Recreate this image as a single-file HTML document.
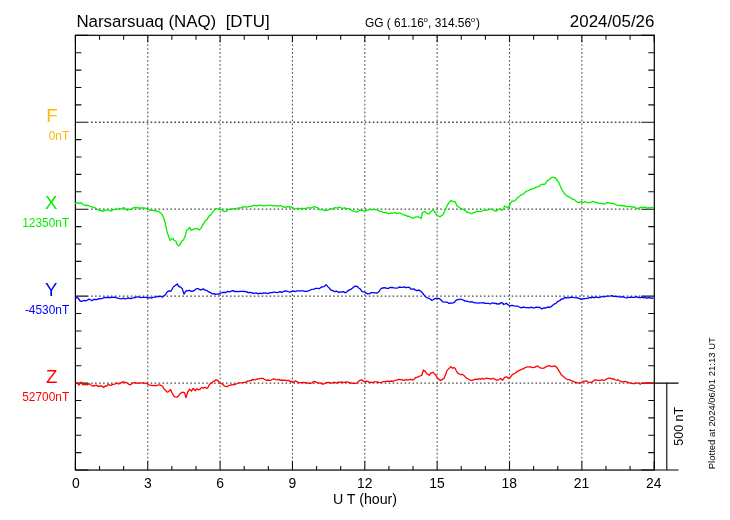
<!DOCTYPE html><html><head><meta charset="utf-8"><style>html,body{margin:0;padding:0;background:#fff;}svg{display:block;}text{font-family:"Liberation Sans",Arial,sans-serif;}</style></head><body>
<svg width="730" height="520" viewBox="0 0 730 520">
<rect width="730" height="520" fill="#fff"/>
<path d="M91.10 122.25H641.30 M91.10 209.20H641.30 M91.10 296.15H641.30 M91.10 383.10H641.30" stroke="#000" stroke-width="1.3" stroke-dasharray="1.6 2.3675" fill="none" stroke-opacity="0.72"/>
<path d="M147.75 36.23V462.05 M220.10 36.23V462.05 M292.45 36.23V462.05 M364.80 36.23V462.05 M437.15 36.23V462.05 M509.51 36.23V462.05 M581.86 36.23V462.05" stroke="#000" stroke-width="1.1" stroke-dasharray="1.8 2.1675" fill="none" stroke-opacity="0.64"/>
<path d="M75.40 35.30h13 M654.30 35.30h-13 M75.40 52.69h6 M654.30 52.69h-6 M75.40 70.08h6 M654.30 70.08h-6 M75.40 87.47h6 M654.30 87.47h-6 M75.40 104.86h6 M654.30 104.86h-6 M75.40 122.25h13 M654.30 122.25h-13 M75.40 139.64h6 M654.30 139.64h-6 M75.40 157.03h6 M654.30 157.03h-6 M75.40 174.42h6 M654.30 174.42h-6 M75.40 191.81h6 M654.30 191.81h-6 M75.40 209.20h13 M654.30 209.20h-13 M75.40 226.59h6 M654.30 226.59h-6 M75.40 243.98h6 M654.30 243.98h-6 M75.40 261.37h6 M654.30 261.37h-6 M75.40 278.76h6 M654.30 278.76h-6 M75.40 296.15h13 M654.30 296.15h-13 M75.40 313.54h6 M654.30 313.54h-6 M75.40 330.93h6 M654.30 330.93h-6 M75.40 348.32h6 M654.30 348.32h-6 M75.40 365.71h6 M654.30 365.71h-6 M75.40 383.10h13 M654.30 383.10h-13 M75.40 400.49h6 M654.30 400.49h-6 M75.40 417.88h6 M654.30 417.88h-6 M75.40 435.27h6 M654.30 435.27h-6 M75.40 452.66h6 M654.30 452.66h-6 M75.40 470.05h13 M654.30 470.05h-13 M75.40 470.05v-9 M75.40 35.30v7 M99.52 470.05v-4 M99.52 35.30v4.5 M123.63 470.05v-4 M123.63 35.30v4.5 M147.75 470.05v-9 M147.75 35.30v7 M171.87 470.05v-4 M171.87 35.30v4.5 M195.99 470.05v-4 M195.99 35.30v4.5 M220.10 470.05v-9 M220.10 35.30v7 M244.22 470.05v-4 M244.22 35.30v4.5 M268.34 470.05v-4 M268.34 35.30v4.5 M292.45 470.05v-9 M292.45 35.30v7 M316.57 470.05v-4 M316.57 35.30v4.5 M340.69 470.05v-4 M340.69 35.30v4.5 M364.80 470.05v-9 M364.80 35.30v7 M388.92 470.05v-4 M388.92 35.30v4.5 M413.04 470.05v-4 M413.04 35.30v4.5 M437.15 470.05v-9 M437.15 35.30v7 M461.27 470.05v-4 M461.27 35.30v4.5 M485.39 470.05v-4 M485.39 35.30v4.5 M509.51 470.05v-9 M509.51 35.30v7 M533.62 470.05v-4 M533.62 35.30v4.5 M557.74 470.05v-4 M557.74 35.30v4.5 M581.86 470.05v-9 M581.86 35.30v7 M605.97 470.05v-4 M605.97 35.30v4.5 M630.09 470.05v-4 M630.09 35.30v4.5 M654.21 470.05v-9 M654.21 35.30v7" stroke="#111" stroke-width="1.1" fill="none"/>
<rect x="75.4" y="35.3" width="578.90" height="434.75" fill="none" stroke="#000" stroke-width="1.2"/>
<path d="M654.30 383.10H678.5M654.30 470.05H678.5M666.8 383.10V470.05" stroke="#000" stroke-width="1.1" fill="none"/>
<path d="M75.0 203.6 L76.7 202.8 L78.3 203.0 L79.8 203.3 L81.4 202.6 L82.6 204.2 L84.4 205.2 L86.3 205.5 L88.2 205.5 L90.0 206.3 L91.8 206.8 L93.7 207.3 L95.4 208.1 L97.0 209.2 L98.7 209.8 L100.1 210.8 L101.6 210.4 L103.0 211.6 L104.4 210.2 L105.9 210.7 L107.3 209.5 L108.8 210.1 L110.4 211.0 L111.8 210.9 L113.2 209.4 L114.6 209.6 L116.0 209.2 L117.5 209.2 L118.9 208.2 L120.4 209.0 L121.8 208.6 L123.3 207.7 L125.2 208.3 L127.0 210.4 L128.5 209.1 L130.0 209.3 L131.4 209.4 L132.9 208.0 L134.4 207.6 L135.9 207.4 L137.5 208.0 L139.1 207.6 L140.6 208.6 L141.8 207.8 L143.0 207.8 L144.7 208.0 L146.3 208.5 L148.0 208.8 L150.0 210.4 L151.5 210.2 L152.9 210.4 L154.4 211.0 L155.9 210.7 L157.3 211.3 L158.8 211.5 L161.0 213.2 L163.2 216.4 L165.3 223.0 L167.0 231.8 L168.6 236.2 L170.3 240.5 L171.9 238.9 L173.2 238.4 L174.1 240.5 L175.8 241.1 L177.4 245.0 L179.0 246.0 L180.1 244.4 L181.8 241.1 L183.4 240.0 L185.1 236.2 L186.7 230.1 L188.4 229.0 L189.5 227.4 L191.1 230.1 L193.3 229.4 L194.7 228.7 L196.0 228.7 L198.2 229.0 L199.3 230.1 L201.5 227.4 L202.8 224.5 L204.2 223.0 L205.3 220.3 L207.0 219.7 L209.2 215.9 L210.6 215.1 L211.9 213.2 L213.3 211.3 L214.7 209.3 L216.3 208.5 L217.7 209.1 L219.0 209.3 L220.7 209.2 L222.3 210.1 L223.7 211.5 L225.0 211.4 L226.4 211.3 L227.7 209.5 L229.1 209.4 L230.5 208.9 L231.8 209.3 L233.2 208.7 L234.6 208.8 L235.9 209.0 L237.3 208.1 L238.7 208.0 L240.1 208.2 L241.4 207.7 L242.8 206.9 L244.1 207.0 L245.5 206.6 L246.9 207.1 L248.3 206.9 L249.6 206.2 L251.0 206.3 L252.4 206.0 L253.8 205.2 L255.1 205.4 L256.5 206.1 L257.8 205.5 L259.2 205.5 L260.6 205.0 L262.0 205.7 L263.3 205.9 L264.7 205.9 L266.1 205.7 L267.5 205.4 L268.9 205.4 L270.2 205.4 L271.6 205.3 L273.0 205.9 L274.3 205.7 L275.6 205.7 L277.0 206.0 L278.4 206.1 L279.8 205.5 L281.1 205.7 L282.5 206.8 L283.9 206.6 L285.3 207.4 L286.6 206.9 L288.0 206.7 L289.4 207.0 L290.8 206.8 L292.1 207.7 L293.5 208.0 L294.9 208.8 L296.2 208.6 L297.6 208.3 L299.0 208.3 L300.4 209.0 L301.7 208.2 L303.1 208.7 L304.5 208.4 L305.8 208.7 L307.2 207.7 L308.6 207.9 L309.9 207.8 L311.3 208.0 L313.0 207.0 L314.7 206.6 L316.4 207.4 L318.2 208.0 L319.5 209.6 L320.9 209.8 L322.4 209.2 L324.0 210.6 L325.5 210.3 L326.9 210.3 L328.2 210.0 L329.6 209.0 L331.0 209.0 L332.4 208.8 L333.7 208.1 L335.1 207.7 L336.5 207.8 L337.8 207.6 L339.1 207.0 L340.5 207.7 L341.9 208.4 L343.2 208.2 L344.6 207.8 L346.0 208.4 L347.8 208.7 L349.5 209.0 L351.2 210.1 L352.9 211.2 L354.3 211.3 L355.6 211.6 L357.0 212.1 L358.4 211.2 L359.7 210.1 L361.1 210.4 L362.5 210.3 L364.5 211.4 L366.6 210.1 L368.0 210.2 L369.3 209.9 L370.6 209.2 L372.0 209.8 L373.4 209.4 L374.8 209.3 L376.1 209.9 L377.5 209.8 L378.9 210.9 L380.2 211.3 L381.6 211.4 L383.0 212.3 L384.4 212.7 L385.7 212.3 L387.1 213.1 L388.5 213.7 L389.9 213.6 L391.2 212.8 L392.6 213.5 L394.0 212.7 L395.4 212.6 L396.7 213.7 L398.1 213.2 L399.5 213.2 L400.8 213.3 L402.2 214.2 L403.6 215.0 L404.9 215.2 L406.3 215.4 L407.7 216.6 L408.9 216.2 L410.0 216.8 L411.6 217.6 L413.3 218.3 L415.0 217.1 L416.6 216.8 L418.2 216.8 L419.9 217.4 L421.0 218.7 L422.6 212.5 L424.8 211.4 L426.4 213.0 L427.8 213.8 L429.2 213.9 L430.8 211.9 L433.0 209.7 L435.2 212.5 L436.8 215.4 L438.5 216.0 L440.1 216.8 L441.5 215.6 L442.9 215.0 L445.1 210.3 L447.3 205.3 L448.6 203.1 L450.0 201.0 L451.4 200.6 L452.7 201.7 L454.9 201.3 L457.1 205.9 L458.8 207.0 L460.4 208.4 L462.0 208.9 L463.7 209.7 L465.4 210.6 L467.0 212.5 L468.6 212.3 L470.3 213.3 L471.8 213.6 L473.2 212.8 L474.7 212.5 L476.3 211.5 L477.9 211.4 L479.4 211.4 L480.8 211.6 L482.3 211.0 L483.8 210.0 L485.2 209.8 L486.7 210.3 L488.7 209.7 L490.5 209.1 L492.4 209.5 L494.2 210.7 L496.1 211.3 L498.0 209.5 L499.8 208.8 L501.1 209.9 L502.3 210.4 L503.5 208.5 L504.7 206.0 L506.2 206.9 L507.8 207.6 L509.7 205.1 L510.9 202.5 L512.1 200.8 L513.4 201.5 L514.6 200.8 L515.9 199.9 L517.1 198.1 L518.7 197.0 L520.4 195.4 L522.0 194.7 L523.6 193.7 L525.3 192.1 L526.9 191.0 L528.8 190.3 L530.6 189.4 L532.5 188.7 L534.3 188.5 L535.5 187.3 L537.4 187.0 L539.2 186.3 L540.5 184.9 L541.7 184.6 L543.0 184.2 L544.5 184.3 L546.0 183.0 L547.3 180.5 L548.8 180.1 L550.3 178.6 L551.5 177.5 L552.8 177.0 L554.0 177.8 L555.3 177.6 L557.1 180.0 L559.0 182.9 L560.9 187.6 L562.7 191.0 L564.5 193.7 L566.4 195.6 L567.5 196.1 L568.7 196.8 L570.5 197.6 L572.4 199.2 L574.2 199.5 L576.1 201.3 L578.0 202.4 L579.8 202.3 L581.0 201.6 L582.3 202.3 L583.8 202.4 L585.3 201.5 L587.1 202.8 L589.0 202.7 L590.7 202.5 L592.3 201.5 L594.0 201.7 L595.5 202.6 L597.1 202.3 L598.5 203.3 L600.0 203.3 L601.4 203.3 L603.0 203.8 L604.5 204.2 L606.0 203.2 L607.5 202.6 L609.4 202.9 L611.2 203.6 L612.8 203.3 L614.3 203.8 L616.1 204.9 L618.0 205.4 L619.6 205.5 L621.3 205.3 L622.9 206.0 L624.6 205.6 L626.2 206.6 L627.9 206.6 L629.5 206.4 L631.2 206.9 L632.8 207.0 L634.3 207.0 L635.9 208.2 L637.5 208.5 L639.0 208.2 L640.9 207.2 L642.7 207.6 L644.2 207.2 L645.8 207.3 L647.3 208.3 L648.8 207.6 L650.5 208.0 L652.1 207.4 L653.8 207.6" stroke="#00f000" stroke-width="1.3" fill="none" stroke-linejoin="round"/>
<path d="M75.5 298.5 L77.1 297.3 L78.3 298.5 L80.2 301.0 L82.1 301.3 L83.9 300.3 L85.8 300.8 L87.6 300.0 L88.8 299.1 L90.0 299.5 L91.9 300.7 L93.5 299.5 L95.0 299.5 L96.8 299.6 L98.7 298.7 L100.3 298.8 L102.0 298.4 L103.6 297.9 L105.2 297.4 L106.9 297.7 L108.5 297.3 L110.2 297.5 L111.8 297.4 L113.5 297.3 L115.0 297.1 L116.5 297.9 L118.1 298.2 L119.6 298.7 L121.4 298.8 L123.3 298.2 L124.9 298.8 L126.6 298.7 L128.2 297.9 L129.4 298.3 L130.7 298.5 L132.3 298.1 L134.0 297.5 L135.6 297.5 L137.3 296.8 L138.9 296.9 L140.6 297.6 L142.4 297.4 L144.3 297.3 L146.2 297.3 L148.0 297.9 L149.6 297.5 L151.3 298.1 L152.9 297.3 L154.4 297.2 L156.0 297.0 L157.6 296.4 L159.1 296.6 L160.8 296.2 L162.5 297.2 L164.0 295.7 L165.5 294.7 L167.4 291.6 L169.2 290.8 L171.1 291.0 L172.9 287.7 L174.2 286.1 L175.4 285.5 L177.3 283.9 L178.5 286.1 L180.3 287.1 L182.2 288.6 L184.0 294.1 L185.9 291.0 L187.8 290.7 L189.6 290.4 L191.4 291.4 L193.3 291.0 L194.9 290.1 L196.4 288.6 L197.9 288.6 L199.5 289.5 L201.3 289.8 L203.2 288.9 L205.0 290.1 L206.8 290.4 L208.7 291.9 L210.5 292.6 L212.3 293.8 L214.2 293.7 L215.4 294.3 L216.7 294.1 L218.6 294.1 L220.4 293.2 L222.2 292.5 L224.1 292.3 L225.9 292.5 L227.8 291.3 L229.7 291.8 L231.5 291.0 L233.1 290.6 L234.8 291.6 L236.4 291.4 L238.1 291.7 L239.7 291.3 L241.4 291.3 L243.0 291.4 L244.7 291.5 L246.3 291.6 L248.1 292.6 L249.9 292.3 L251.6 292.6 L253.2 293.4 L254.9 293.2 L256.5 293.0 L258.2 293.8 L259.8 293.2 L261.4 293.7 L262.9 293.0 L264.4 293.2 L266.0 293.0 L267.5 293.5 L269.1 293.1 L270.6 292.7 L272.1 292.6 L273.7 292.1 L275.2 292.2 L276.8 292.7 L278.3 292.3 L279.9 291.6 L281.6 292.4 L283.2 291.6 L284.8 291.0 L286.3 291.0 L288.2 291.6 L290.0 292.1 L291.9 291.3 L293.4 290.9 L294.9 291.7 L296.5 291.2 L298.0 290.8 L299.7 290.8 L301.3 290.8 L303.0 290.8 L304.8 291.3 L306.6 291.4 L308.5 290.8 L310.3 290.0 L312.1 289.3 L314.0 289.2 L315.9 288.3 L317.7 288.3 L319.6 288.6 L321.4 287.0 L322.6 286.9 L323.9 286.7 L326.1 284.6 L328.2 287.1 L330.0 288.8 L331.2 290.3 L332.5 290.4 L333.7 291.2 L334.9 291.6 L336.6 291.1 L338.2 292.3 L339.9 292.0 L341.8 292.1 L343.6 291.6 L344.8 292.7 L346.0 292.5 L347.9 290.7 L349.7 289.8 L351.5 288.9 L353.4 287.3 L355.2 286.1 L357.1 286.3 L358.4 287.7 L359.6 288.6 L360.9 289.8 L362.1 291.6 L364.0 291.8 L365.8 292.9 L367.6 293.9 L369.5 293.7 L371.4 292.6 L373.2 292.6 L374.7 292.9 L376.2 293.2 L378.1 292.3 L379.3 291.3 L380.5 289.2 L381.8 288.2 L383.0 288.0 L384.9 287.7 L386.7 288.3 L388.5 288.4 L390.4 287.3 L392.2 287.5 L394.1 287.9 L396.0 288.2 L397.8 287.9 L399.4 287.0 L401.1 287.3 L402.7 287.3 L404.4 286.8 L406.0 287.6 L407.7 287.3 L409.3 287.3 L411.0 289.2 L412.6 289.2 L413.8 288.8 L415.0 289.9 L416.2 290.5 L417.5 290.5 L419.0 290.1 L420.5 291.1 L422.1 292.4 L423.6 294.5 L425.5 296.7 L427.3 297.9 L428.7 298.2 L430.2 299.0 L431.6 300.3 L433.1 299.8 L434.7 298.7 L436.2 298.4 L437.8 298.5 L439.4 298.6 L440.9 300.0 L442.8 301.8 L444.6 302.2 L446.0 302.1 L447.5 302.3 L448.9 303.4 L450.3 303.0 L451.8 303.2 L453.2 302.8 L454.6 302.1 L456.1 300.2 L457.5 299.7 L459.0 299.5 L460.4 299.0 L461.9 299.7 L463.5 300.1 L465.2 301.1 L466.8 301.2 L468.4 301.7 L470.1 302.1 L471.7 301.6 L473.3 302.4 L475.0 302.9 L476.6 302.8 L478.3 303.1 L479.9 302.8 L481.6 302.8 L483.2 302.6 L484.9 303.4 L486.5 303.4 L488.4 303.4 L490.2 304.0 L492.0 303.0 L493.9 303.2 L495.8 303.5 L497.6 304.0 L499.5 303.9 L501.3 302.6 L502.5 303.0 L503.7 304.5 L504.9 304.0 L506.2 303.2 L508.0 304.7 L509.9 306.0 L511.1 305.5 L512.3 305.3 L514.1 305.8 L516.0 306.2 L517.9 306.2 L519.7 307.2 L521.4 308.0 L523.0 307.0 L524.7 307.4 L526.3 307.7 L528.0 307.6 L529.6 307.9 L531.2 307.1 L532.9 307.9 L534.5 307.8 L536.4 307.1 L538.2 307.4 L540.0 307.5 L541.9 309.0 L543.8 307.8 L545.6 308.0 L547.0 307.3 L548.5 307.0 L549.9 307.4 L551.3 306.5 L552.8 305.2 L554.2 304.1 L556.0 303.4 L557.9 301.3 L559.8 300.7 L561.6 298.8 L562.9 299.1 L564.1 297.9 L565.7 297.5 L567.4 297.8 L569.0 297.9 L570.9 297.2 L572.7 297.3 L574.4 297.6 L576.0 297.8 L577.7 297.7 L579.2 298.7 L580.7 299.0 L582.2 299.2 L583.7 298.6 L585.1 298.6 L586.6 298.4 L588.1 298.3 L589.5 297.3 L591.0 297.9 L592.4 297.1 L593.9 297.5 L595.3 297.5 L596.8 296.9 L598.2 297.7 L599.7 297.3 L601.2 296.8 L602.6 296.5 L604.1 297.0 L605.6 296.3 L607.0 296.1 L608.5 296.2 L610.7 295.9 L612.2 295.6 L613.6 296.3 L615.1 296.4 L616.6 296.5 L618.0 296.5 L619.5 297.0 L620.9 297.2 L622.4 296.6 L623.8 297.0 L625.2 297.7 L626.5 297.8 L627.9 297.6 L629.3 297.3 L630.7 297.2 L632.0 297.3 L633.4 297.4 L634.8 297.3 L636.3 296.7 L637.7 297.3 L639.2 297.5 L640.7 297.6 L642.1 297.2 L643.6 297.8 L645.0 297.2 L646.5 298.3 L647.9 297.8 L649.3 297.6 L650.6 297.8 L652.0 298.4 L653.4 297.8" stroke="#0000ff" stroke-width="1.3" fill="none" stroke-linejoin="round"/>
<path d="M75.5 383.6 L77.1 382.9 L78.9 385.0 L80.2 383.2 L81.4 382.1 L82.6 384.8 L83.8 384.7 L85.1 384.5 L86.3 384.5 L87.6 384.8 L89.4 383.6 L91.3 385.4 L92.5 385.9 L93.7 386.0 L95.0 385.7 L96.2 385.0 L98.0 386.6 L99.9 385.8 L101.8 386.0 L103.6 387.5 L105.2 386.0 L106.7 386.0 L108.5 384.2 L109.8 385.3 L111.0 385.4 L112.8 384.4 L114.7 384.2 L116.0 383.2 L117.2 382.9 L118.4 384.0 L119.6 383.6 L121.4 382.6 L123.3 381.7 L124.5 382.5 L125.8 382.3 L127.7 383.5 L129.5 384.8 L131.1 384.3 L132.8 382.8 L134.4 382.6 L136.0 382.9 L137.7 383.4 L139.3 382.9 L140.8 382.9 L142.2 383.1 L143.7 382.7 L145.1 383.5 L146.6 383.0 L148.0 384.2 L149.8 385.2 L151.7 385.4 L153.3 385.7 L155.0 385.4 L156.6 385.8 L158.4 384.8 L160.3 385.2 L162.5 386.0 L163.7 388.4 L164.9 389.7 L166.2 390.9 L167.4 392.2 L168.9 391.2 L170.5 389.5 L172.3 393.4 L173.6 395.7 L174.8 396.9 L176.1 397.2 L177.3 396.9 L178.5 396.1 L179.7 394.0 L181.2 392.9 L182.8 392.2 L184.7 392.8 L185.9 397.7 L187.7 392.2 L189.6 389.1 L191.4 391.0 L193.3 388.5 L195.1 390.7 L197.0 388.7 L198.2 389.7 L199.5 389.7 L200.7 388.5 L201.9 387.5 L203.4 388.1 L205.0 387.3 L206.8 388.5 L208.1 387.2 L209.3 384.8 L210.6 383.4 L211.8 383.3 L213.0 381.7 L214.2 381.1 L216.1 379.9 L217.3 380.2 L218.6 381.3 L220.1 383.1 L221.6 383.6 L222.8 384.6 L224.1 385.8 L225.6 386.4 L227.2 386.6 L228.8 385.5 L230.3 385.0 L231.9 384.8 L233.6 384.5 L235.2 384.5 L237.1 383.5 L238.9 382.9 L240.5 382.8 L242.2 382.6 L243.8 382.3 L245.7 382.3 L247.5 381.1 L248.8 381.1 L250.0 380.5 L251.2 380.6 L252.4 379.5 L254.0 379.8 L255.7 379.8 L257.3 378.9 L259.1 378.9 L261.0 378.3 L262.9 378.4 L264.7 379.5 L266.5 380.3 L268.4 380.0 L269.8 380.4 L271.2 380.0 L272.6 379.2 L274.0 378.8 L275.6 379.6 L277.1 379.8 L278.7 379.4 L280.4 380.4 L282.0 380.0 L283.6 380.3 L285.3 380.1 L286.9 380.7 L288.6 380.3 L290.2 381.7 L291.9 381.4 L293.5 382.2 L295.2 380.9 L296.8 381.6 L298.6 382.6 L300.5 382.6 L302.1 382.6 L303.8 382.3 L305.4 382.9 L307.0 382.7 L308.7 383.5 L310.3 383.2 L312.0 383.2 L313.6 381.4 L315.3 381.6 L317.1 382.6 L319.0 383.2 L320.6 383.0 L322.1 384.1 L323.6 384.0 L325.1 383.2 L327.0 382.5 L328.8 382.3 L330.3 382.9 L331.9 383.1 L333.4 382.4 L334.9 382.4 L336.6 383.1 L338.2 382.1 L339.9 382.4 L341.5 381.8 L343.2 382.5 L344.8 382.4 L346.4 381.8 L348.1 382.2 L349.7 382.8 L351.5 383.0 L353.4 383.4 L355.2 383.3 L357.1 382.8 L359.0 380.9 L360.8 380.1 L362.1 380.0 L363.3 381.2 L364.9 381.8 L366.4 381.2 L367.8 381.3 L369.3 382.6 L370.7 382.2 L372.3 382.7 L374.0 381.8 L375.6 381.8 L377.2 382.0 L378.9 382.4 L380.5 382.6 L381.8 382.3 L383.0 381.6 L384.6 381.6 L386.3 381.4 L387.9 381.2 L389.8 381.3 L391.6 381.0 L393.5 381.3 L395.3 380.3 L397.1 379.9 L399.0 379.4 L400.9 379.6 L402.7 380.0 L404.4 380.4 L406.0 379.7 L407.7 380.1 L409.5 379.5 L411.4 379.4 L412.6 380.2 L413.8 379.5 L415.7 377.5 L417.5 377.2 L418.7 376.6 L419.9 376.0 L421.8 375.3 L423.4 370.0 L424.9 371.0 L426.1 372.6 L427.3 374.1 L429.5 375.1 L431.0 372.9 L432.9 372.3 L434.7 374.1 L435.9 375.2 L437.2 377.8 L439.0 379.4 L440.9 380.6 L442.4 379.4 L444.0 378.4 L445.6 374.5 L447.1 370.4 L448.9 368.6 L450.8 366.7 L452.6 368.3 L453.9 367.6 L455.1 368.3 L456.3 370.8 L457.5 372.9 L459.1 374.0 L460.6 374.7 L462.1 374.3 L463.7 375.3 L465.2 376.9 L466.8 378.2 L468.6 379.2 L470.5 380.3 L472.4 380.3 L474.2 379.7 L475.8 379.1 L477.5 379.3 L479.1 378.7 L480.7 379.3 L482.4 378.4 L484.0 379.3 L485.9 378.2 L487.7 378.4 L489.4 378.7 L491.0 379.1 L492.7 378.4 L494.1 378.7 L495.6 379.6 L497.0 380.3 L498.9 379.5 L500.7 378.4 L502.5 380.3 L503.7 378.5 L504.9 377.2 L506.8 376.9 L508.6 378.4 L510.5 377.2 L512.3 374.7 L513.5 373.9 L514.8 373.5 L516.6 371.9 L518.5 370.8 L520.4 369.8 L522.2 369.2 L524.0 368.4 L525.9 367.3 L527.5 366.9 L529.2 366.9 L530.8 367.0 L532.6 367.6 L534.5 367.3 L536.4 366.3 L537.8 366.1 L539.3 367.5 L540.7 367.9 L542.5 368.3 L544.4 367.9 L546.2 366.6 L548.1 365.8 L549.3 365.6 L550.5 366.3 L552.4 366.5 L554.2 365.8 L556.1 366.7 L557.4 368.2 L558.6 370.4 L559.8 372.0 L561.0 374.5 L562.5 375.8 L564.1 377.2 L566.0 378.7 L567.8 379.7 L569.6 379.7 L571.5 380.9 L573.4 381.4 L575.2 382.4 L576.8 382.5 L578.3 383.1 L580.0 382.8 L581.6 382.6 L583.3 381.4 L585.0 381.1 L586.6 380.9 L588.2 382.1 L589.9 382.3 L592.1 382.0 L594.2 380.3 L595.7 379.8 L597.1 380.1 L598.6 380.3 L600.2 380.3 L601.9 379.8 L603.5 380.4 L605.2 379.8 L606.9 378.9 L608.5 378.2 L610.1 378.2 L611.8 379.0 L613.5 378.8 L615.1 379.8 L616.6 380.1 L618.0 379.9 L619.5 380.7 L620.9 381.5 L622.4 381.9 L623.8 381.7 L625.3 381.4 L626.7 381.8 L628.2 382.3 L629.7 383.1 L631.1 383.2 L632.6 383.4 L634.1 383.8 L635.5 383.0 L637.0 383.1 L638.6 383.1 L640.3 384.2 L642.0 383.3 L643.6 383.1 L645.0 383.5 L646.5 382.8 L647.9 383.1 L649.3 382.9 L650.6 383.0 L652.0 383.0 L653.4 383.1" stroke="#ff0000" stroke-width="1.3" fill="none" stroke-linejoin="round"/>
<text x="76.4" y="27.4" font-size="16.9" fill="#000" xml:space="preserve">Narsarsuaq (NAQ)  [DTU]</text>
<text x="365" y="27.3" font-size="11.9" fill="#000" xml:space="preserve">GG ( 61.16<tspan font-size="7.8" dy="-5.5" dx="-0.4">o</tspan><tspan dy="5.5" dx="0.3">, 314.56</tspan><tspan font-size="7.8" dy="-5.5" dx="-0.4">o</tspan><tspan dy="5.5" dx="0.9">)</tspan></text>
<text x="654.4" y="26.9" font-size="16.9" fill="#000" text-anchor="end">2024/05/26</text>
<text x="75.75" y="487.9" font-size="13.9" text-anchor="middle" fill="#000">0</text>
<text x="147.99" y="487.9" font-size="13.9" text-anchor="middle" fill="#000">3</text>
<text x="220.22" y="487.9" font-size="13.9" text-anchor="middle" fill="#000">6</text>
<text x="292.46" y="487.9" font-size="13.9" text-anchor="middle" fill="#000">9</text>
<text x="364.70" y="487.9" font-size="13.9" text-anchor="middle" fill="#000">12</text>
<text x="436.94" y="487.9" font-size="13.9" text-anchor="middle" fill="#000">15</text>
<text x="509.17" y="487.9" font-size="13.9" text-anchor="middle" fill="#000">18</text>
<text x="581.41" y="487.9" font-size="13.9" text-anchor="middle" fill="#000">21</text>
<text x="653.65" y="487.9" font-size="13.9" text-anchor="middle" fill="#000">24</text>
<text x="365" y="504" font-size="14.2" text-anchor="middle" fill="#000" xml:space="preserve">U T (hour)</text>
<text x="51.9" y="122.0" font-size="18.6" text-anchor="middle" fill="#ffb800">F</text>
<text transform="translate(69.2 139.9) scale(1 1.05)" font-size="11.9" text-anchor="end" fill="#ffb800">0nT</text>
<text x="51.1" y="208.9" font-size="18.6" text-anchor="middle" fill="#00f000">X</text>
<text transform="translate(69.2 226.9) scale(1 1.05)" font-size="11.9" text-anchor="end" fill="#00f000">12350nT</text>
<text x="51.1" y="295.9" font-size="18.6" text-anchor="middle" fill="#0000ff">Y</text>
<text transform="translate(69.2 313.9) scale(1 1.05)" font-size="11.9" text-anchor="end" fill="#0000ff">-4530nT</text>
<text x="51.6" y="382.8" font-size="18.6" text-anchor="middle" fill="#ff0000">Z</text>
<text transform="translate(69.2 400.8) scale(1 1.05)" font-size="11.9" text-anchor="end" fill="#ff0000">52700nT</text>
<text transform="translate(683.3 426.3) rotate(-90)" font-size="12.5" text-anchor="middle" fill="#000">500 nT</text>
<text transform="translate(715.2 403.2) rotate(-90)" font-size="9.5" text-anchor="middle" fill="#000">Plotted at 2024/06/01 21:13 UT</text>
</svg></body></html>
